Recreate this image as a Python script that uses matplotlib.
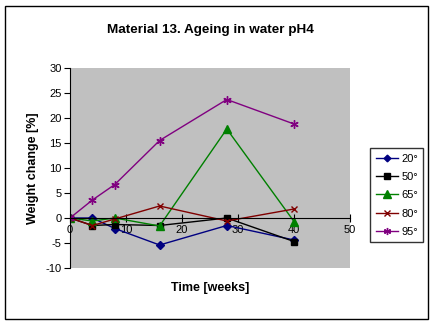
import matplotlib
matplotlib.use("Agg")
import matplotlib.pyplot as plt
from matplotlib.patches import Rectangle

plt.rcParams["font.family"] = ["Liberation Sans", "DejaVu Sans"]
plt.rcParams["axes.unicode_minus"] = False

weeks = [0, 4, 8, 16, 28, 40]
s20 = [0, 0, -2.1, -5.4, -1.5, -4.4]
s50 = [0, -1.5, -1.3, -1.5, 0, -4.7]
s65 = [0, -0.6, 0, -1.6, 17.8, -0.7]
s80 = [0, -1.5, -0.2, 2.4, -0.6, 1.8]
s95 = [0, 3.6, 6.7, 15.5, 23.7, 18.8]
labels = ["20°", "50°", "65°", "80°", "95°"]

styles = [
    ("#000080", "D", 4, "#000080"),
    ("#000000", "s", 5, "#000000"),
    ("#008000", "^", 6, "#008000"),
    ("#800000", "x", 5, "#800000"),
    ("#800080", (6, 2, 0), 6, "#800080"),
]

fig = plt.figure(figsize=(4.34, 3.25), dpi=100)
fig.patch.set_facecolor("white")
fig.patches.append(Rectangle((5 / 434, 6 / 325), 423 / 434, 313 / 325,
                             transform=fig.transFigure, fill=False,
                             edgecolor="black", lw=1))

ax = fig.add_axes([70 / 434, 57 / 325, 280 / 434, 200 / 325])
ax.set_facecolor("#C0C0C0")

for vals, lab, (c, m, ms, mc) in zip([s20, s50, s65, s80, s95], labels, styles):
    ax.plot(weeks, vals, color=c, lw=1, marker=m, ms=ms,
            markerfacecolor=mc, markeredgecolor=mc, label=lab)

ax.set_xlim(0, 50)
ax.set_ylim(-10, 30)
ax.set_xticks(range(0, 51, 10))
ax.set_yticks(range(-10, 31, 5))
ax.spines["top"].set_visible(False)
ax.spines["right"].set_visible(False)
ax.spines["bottom"].set_position(("data", 0))
ax.tick_params(axis="x", direction="inout", length=6, labelsize=8, pad=2)
ax.tick_params(axis="y", direction="out", length=4, labelsize=8, pad=2)

fig.text(0.5 * (70 + 350) / 434, 1 - 30 / 325, "Material 13. Ageing in water pH4",
         ha="center", va="center", fontsize=9.7, fontweight="bold")
fig.text(0.5 * (70 + 350) / 434, 1 - 288 / 325, "Time [weeks]",
         ha="center", va="center", fontsize=9, fontweight="bold")
fig.text(33 / 434, 1 - 168 / 325, "Weight change [%]", rotation=90,
         ha="center", va="center", fontsize=9, fontweight="bold")

leg = fig.legend(loc="upper left", bbox_to_anchor=(370 / 434, 1 - 148 / 325),
                 frameon=True, fancybox=False, fontsize=8, handlelength=2.0,
                 borderpad=0.5, labelspacing=0.75, handletextpad=0.3,
                 borderaxespad=0, markerscale=0.85)
leg.get_frame().set_edgecolor("black")
leg.get_frame().set_linewidth(1)

fig.savefig("out.png", dpi=100)
